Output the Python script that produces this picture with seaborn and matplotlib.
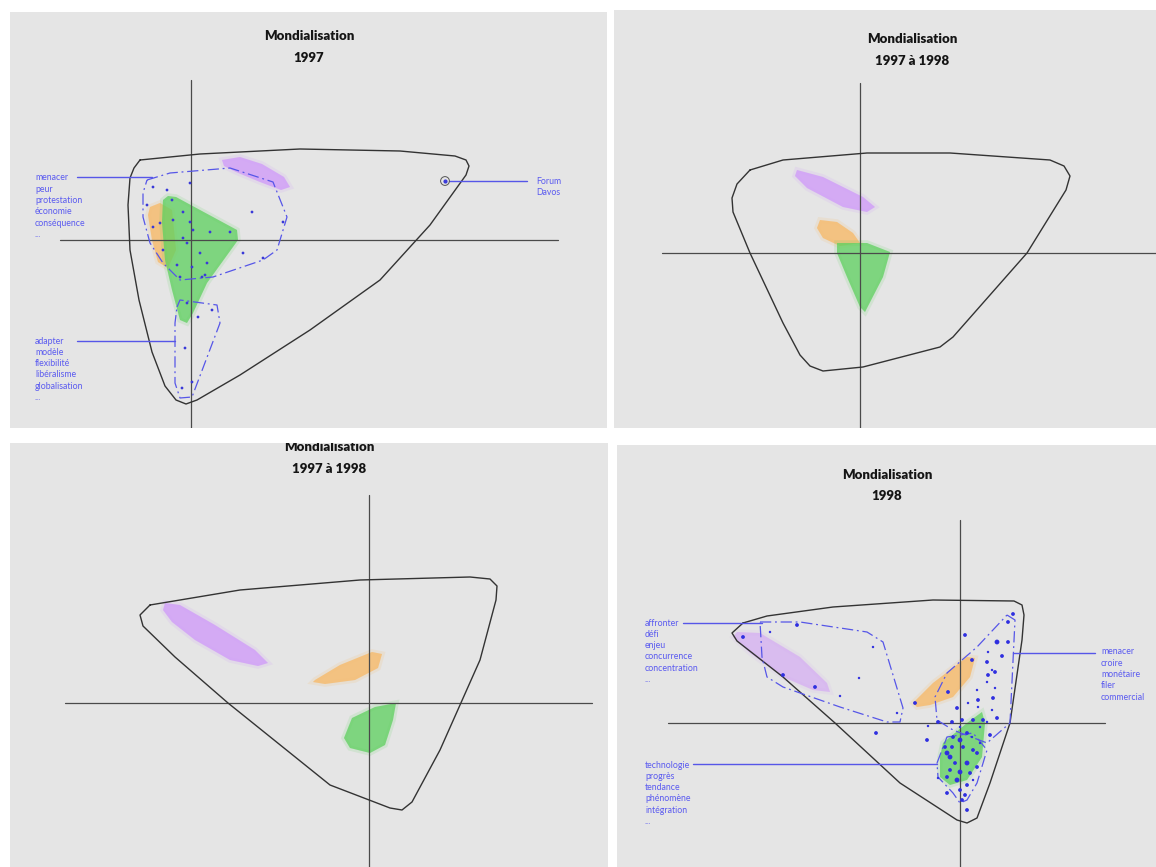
import numpy as np
import pandas as pd
import matplotlib.pyplot as plt
import seaborn as sns

# ---- panel frames (figure pixels: x0, y0, x1, y1) ----
panels = [(10, 12, 607, 428), (614, 10, 1156, 428), (10, 443, 608, 867), (617, 445, 1156, 867)]
titles = [("Mondialisation", "1997"), ("Mondialisation", "1997 à 1998"),
          ("Mondialisation", "1997 à 1998"), ("Mondialisation", "1998")]
title_x = [309, 912, 329, 887]
title_y = [(40, 62), (43, 65), (451, 473), (479, 500)]

# axis crosses: (x of vertical, y top, y bottom), (y of horizontal, x left, x right)
vaxis = [(191, 80, 428), (860, 83, 428), (369, 495, 867), (960, 520, 867)]
haxis = [(240, 60, 558), (253, 662, 1156), (703, 65, 592), (723, 668, 1105)]

# ---- outer outlines ----
outline1 = [(140, 160), (200, 154), (300, 149), (400, 151), (455, 156), (466, 160), (469, 166), (466, 175),
            (430, 225), (380, 280), (310, 330), (240, 375), (197, 400), (186, 404), (176, 400), (165, 386),
            (152, 352), (139, 300), (130, 250), (128, 205), (130, 178), (134, 168), (140, 160)]
outline2 = [(750, 170), (783, 160), (867, 153), (950, 153), (1050, 160), (1064, 166), (1070, 176), (1066, 190),
            (1027, 253), (953, 337), (940, 347), (863, 367), (823, 371), (810, 366), (800, 355), (783, 323),
            (750, 253), (733, 212), (732, 198), (737, 184), (750, 170)]
outline3 = [(150, 605), (240, 590), (360, 580), (470, 577), (490, 579), (497, 586), (496, 600),
            (480, 660), (440, 750), (412, 802), (402, 810), (390, 808), (330, 785), (228, 703),
            (175, 657), (143, 626), (140, 615), (150, 605)]
outline4 = [(743, 623), (767, 616), (833, 607), (933, 600), (1014, 601), (1022, 605), (1024, 615),
            (1022, 640), (1010, 723), (990, 783), (977, 818), (967, 823), (957, 820), (900, 783),
            (835, 723), (783, 677), (737, 641), (732, 633), (743, 623)]
outlines = [outline1, outline2, outline3, outline4]

# ---- coloured blobs per panel ----
purple = [
    [(222, 160), (240, 157), (262, 164), (284, 177), (290, 187), (281, 190), (260, 182), (236, 172), (224, 166)],
    [(797, 170), (823, 177), (863, 197), (875, 207), (867, 212), (843, 207), (807, 188), (795, 176)],
    [(165, 603), (180, 605), (215, 625), (255, 650), (268, 663), (258, 666), (230, 660), (195, 640), (172, 622), (163, 610)],
    [(737, 632), (760, 633), (800, 657), (827, 683), (830, 692), (813, 690), (783, 677), (750, 653), (733, 637)],
]
orange = [
    [(150, 207), (160, 203), (172, 210), (176, 250), (168, 268), (158, 262), (152, 240), (148, 215)],
    [(820, 220), (837, 222), (853, 233), (860, 243), (840, 246), (823, 238), (817, 228)],
    [(315, 680), (340, 665), (372, 652), (382, 654), (378, 668), (355, 680), (325, 684), (313, 682)],
    [(913, 703), (933, 683), (967, 657), (975, 658), (970, 677), (953, 697), (930, 705), (917, 707)],
]
green = [
    [(163, 200), (168, 196), (176, 197), (237, 230), (238, 240), (207, 283), (193, 313), (187, 323),
     (180, 320), (172, 290), (165, 260), (162, 222)],
    [(837, 243), (867, 243), (890, 252), (883, 277), (865, 312), (860, 307), (847, 277), (837, 253)],
    [(352, 718), (375, 707), (396, 703), (393, 720), (385, 745), (370, 753), (350, 748), (344, 738)],
    [(943, 743), (967, 723), (982, 712), (985, 723), (982, 757), (967, 780), (950, 785), (940, 777), (940, 757)],
]

# ---- dashed blue hulls ----
hulls1 = [
    [(147, 180), (170, 173), (230, 168), (273, 182), (287, 217), (277, 250), (263, 260), (213, 277),
     (180, 280), (163, 263), (150, 243), (143, 217), (143, 193), (147, 180)],
    [(177, 307), (180, 300), (217, 305), (220, 323), (192, 397), (180, 398), (175, 383), (175, 323), (177, 307)],
]
hulls4 = [
    [(760, 622), (800, 622), (867, 632), (883, 642), (903, 708), (900, 722), (887, 722), (840, 707),
     (783, 687), (767, 677), (762, 657), (760, 622)],
    [(1007, 615), (1015, 620), (1010, 723), (987, 743), (953, 730), (937, 720), (935, 697), (947, 673),
     (977, 647), (1007, 615)],
    [(937, 763), (947, 737), (973, 733), (987, 750), (977, 783), (967, 800), (960, 803), (953, 793),
     (938, 777), (937, 763)],
]

# ---- blue word points ----
pts1_x = [190, 153, 167, 147, 172, 183, 190, 210, 230, 183, 187, 200, 177, 207, 202, 180, 252, 283, 243, 263,
          187, 198, 212, 185, 182, 192, 160, 153, 193, 205, 173, 192, 163]
pts1_y = [183, 187, 190, 205, 200, 212, 222, 232, 232, 238, 243, 253, 265, 263, 277, 277, 212, 222, 253, 258,
          303, 317, 310, 348, 388, 382, 223, 227, 230, 275, 220, 267, 250]
pts4_x = [743, 770, 797, 783, 815, 840, 859, 873, 876, 897, 915, 927, 928, 948, 972, 965, 997, 1008, 1002, 1013,
          1008, 988, 987, 992, 988, 995, 987, 995, 977, 978, 993, 968, 957, 978, 992, 997, 987, 973, 962, 952,
          938, 960, 980, 990, 967, 960, 952, 947, 963, 973, 980, 955, 967, 977, 950, 960, 970, 947, 957, 967,
          938, 947, 960, 965, 962, 967, 973, 953, 983, 972, 977, 950, 945]
pts4_y = [637, 632, 625, 675, 687, 696, 678, 647, 733, 713, 703, 740, 726, 692, 660, 635, 642, 642, 656, 614,
          622, 652, 662, 670, 675, 672, 682, 688, 690, 700, 698, 703, 708, 707, 710, 718, 722, 720, 720, 722,
          722, 727, 727, 735, 733, 740, 747, 753, 747, 750, 743, 763, 763, 767, 770, 772, 773, 777, 780, 785,
          778, 793, 790, 795, 800, 810, 780, 737, 720, 737, 753, 757, 747]
pts4_s = [3, 2, 3, 3, 3, 2, 2, 2, 3, 2, 3, 3, 2, 3, 3, 3, 4, 3, 3, 3,
          3, 2, 3, 2, 3, 3, 2, 2, 2, 3, 3, 2, 3, 2, 2, 3, 2, 3, 3, 3,
          3, 2, 2, 3, 3, 4, 3, 4, 3, 3, 2, 3, 4, 3, 3, 4, 3, 3, 4, 3,
          2, 3, 3, 3, 3, 3, 2, 3, 3, 2, 3, 4, 3]

# ---- word lists & leaders ----
words1_top = ["menacer", "peur", "protestation", "économie", "conséquence", "..."]
words1_bot = ["adapter", "modèle", "flexibilité", "libéralisme", "globalisation", "..."]
words1_davos = ["Forum", "Davos"]
words4_top = ["affronter", "défi", "enjeu", "concurrence", "concentration", "..."]
words4_bot = ["technologie", "progrès", "tendance", "phénomène", "intégration", "..."]
words4_right = ["menacer", "croire", "monétaire", "filer", "commercial"]
word_blocks = [  # (panel, words, x, y of first line)
    (0, words1_top, 35, 178), (0, words1_bot, 35, 341), (0, words1_davos, 536, 181),
    (3, words4_top, 645, 623), (3, words4_bot, 645, 765), (3, words4_right, 1101, 652),
]
leaders = [  # (panel, x0, x1, y)
    (0, 77, 152, 177), (0, 77, 175, 341), (0, 449, 527, 181),
    (3, 683, 762, 623), (3, 693, 937, 764), (3, 1013, 1095, 653),
]

BG = "#e5e5e5"
BLUE = "#5656e8"
TXT_BLUE = "#5a5af0"
PURPLE = "#d2a2f7"
ORANGE = "#f5bf78"
GREEN = "#5fd160"

sns.set_theme(style="white")
plt.rcParams['font.family'] = ['Lato', 'DejaVu Sans']

W, H = 1156, 867
fig = plt.figure(figsize=(W / 100, H / 100), dpi=100, facecolor="white")

axes = []
for (x0, y0, x1, y1) in panels:
    ax = fig.add_axes([x0 / W, 1 - y1 / H, (x1 - x0) / W, (y1 - y0) / H])
    ax.set_xlim(x0, x1)
    ax.set_ylim(y1, y0)
    ax.set_facecolor(BG)
    ax.set_xticks([])
    ax.set_yticks([])
    for s in ax.spines.values():
        s.set_visible(False)
    axes.append(ax)

for i, ax in enumerate(axes):
    # coloured zones, softened edges
    pa = 0.55 if i == 3 else 0.85
    for poly, col, a in [(purple[i], PURPLE, pa), (orange[i], ORANGE, 0.9), (green[i], GREEN, 0.72)]:
        px, py = zip(*poly)
        ax.fill(px, py, color=col, alpha=a * 0.2, lw=4, ec=col, zorder=2)
        ax.fill(px, py, color=col, alpha=a, lw=0, zorder=2)
    # axes cross
    vx, vy0, vy1 = vaxis[i]
    hy, hx0, hx1 = haxis[i]
    ax.plot([vx, vx], [vy0, vy1], color="#4a4a4a", lw=0.9, zorder=3)
    ax.plot([hx0, hx1], [hy, hy], color="#4a4a4a", lw=0.9, zorder=3)
    # outline
    ox, oy = zip(*outlines[i])
    ax.plot(ox, oy, color="#333333", lw=1.0, zorder=4, solid_joinstyle="round")
    # titles
    for k in range(2):
        ax.text(title_x[i], title_y[i][k], titles[i][k], ha="center", va="baseline",
                fontsize=9.5, fontweight="heavy", color="#151515", zorder=6, clip_on=True)

# dashed hulls
for hulls, ax in [(hulls1, axes[0]), (hulls4, axes[3])]:
    for h in hulls:
        hx, hy = zip(*h)
        ax.plot(hx, hy, color=BLUE, lw=0.9, ls=(0, (9, 3, 1.5, 3)), zorder=4)

# points
df1 = pd.DataFrame({"x": pts1_x, "y": pts1_y})
sns.scatterplot(data=df1, x="x", y="y", ax=axes[0], s=4, color="#3a3ad8", edgecolor="none", zorder=5, legend=False)
df4 = pd.DataFrame({"x": pts4_x, "y": pts4_y, "s": pts4_s})
sns.scatterplot(data=df4, x="x", y="y", size="s", sizes=(3, 12), ax=axes[3], color="#2f2fe0",
                edgecolor="none", zorder=5, legend=False)
for ax, (x0, y0, x1, y1) in zip(axes, panels):
    ax.set_xlim(x0, x1)
    ax.set_ylim(y1, y0)
    ax.set_xlabel("")
    ax.set_ylabel("")

# Davos marker
axes[0].scatter([445], [181], s=40, facecolor="none", edgecolor="#555555", lw=0.7, zorder=5)
axes[0].scatter([445], [181], s=4, color="#3a3ad8", zorder=6)

# leader lines
for p, x0, x1, y in leaders:
    axes[p].plot([x0, x1], [y, y], color=BLUE, lw=1.0, zorder=4)

# word lists
for p, words, x, y in word_blocks:
    for k, w in enumerate(words):
        axes[p].text(x, y + k * 11.3, w, ha="left", va="center", fontsize=6.3,
                     color=TXT_BLUE, zorder=6)

fig.savefig("out.png", dpi=100, facecolor="white")
